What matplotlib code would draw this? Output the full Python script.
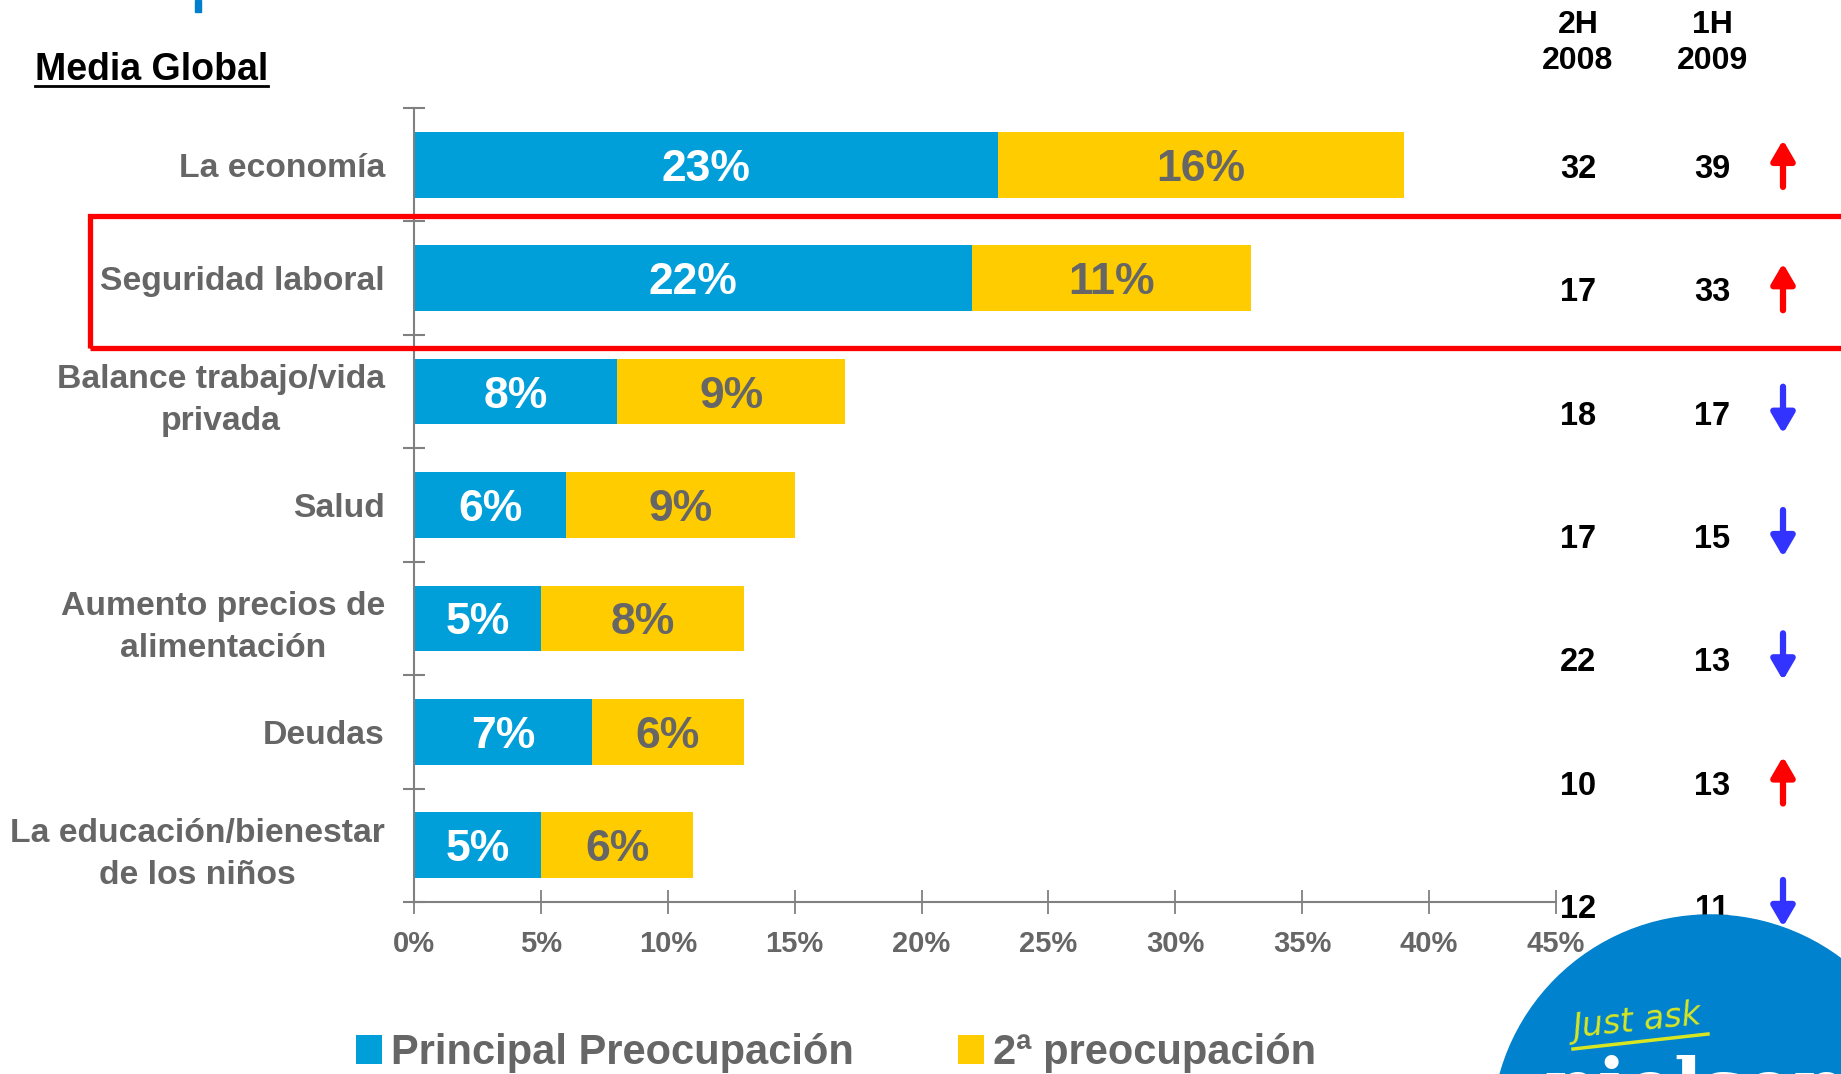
import matplotlib
matplotlib.use("Agg")
from matplotlib import pyplot as plt
from matplotlib.patches import Rectangle, Circle
from matplotlib.lines import Line2D
import numpy as np

# datos
categorias = ["La economía", "Seguridad laboral", "Balance trabajo/vida\nprivada", "Salud",
              "Aumento precios de\nalimentación", "Deudas", "La educación/bienestar\nde los niños"]
principal = [23, 22, 8, 6, 5, 7, 5]
segunda = [16, 11, 9, 9, 8, 6, 6]
h2_2008 = [32, 17, 18, 17, 22, 10, 12]
h1_2009 = [39, 33, 17, 15, 13, 13, 11]
cabeceras = ["2H\n2008", "1H\n2009"]
ticks_x = [0, 5, 10, 15, 20, 25, 30, 35, 40, 45]
leyenda = ["Principal Preocupación", "2ª preocupación"]

AZUL = "#009FDA"
AMARILLO = "#FFCC00"
GRIS = "#666666"
EJE = "#808080"

plt.rcParams['font.family'] = ["Liberation Sans", "DejaVu Sans"]
plt.rcParams['font.weight'] = 'bold'

W, H = 1841, 1074
fig = plt.figure(figsize=(W / 100, H / 100), dpi=100)

# grafico principal
ax = fig.add_axes([414 / W, 1 - 902 / H, 1142 / W, 794 / H])
y = np.arange(len(categorias))
b1 = ax.barh(y, principal, height=0.58, color=AZUL)
b2 = ax.barh(y, segunda, left=principal, height=0.58, color=AMARILLO)
for i in range(len(y)):
    ax.text(principal[i] / 2, y[i], f"{principal[i]}%", ha='center', va='center_baseline',
            color='white', fontsize=32, weight='bold')
    ax.text(principal[i] + segunda[i] / 2, y[i], f"{segunda[i]}%", ha='center', va='center_baseline',
            color=GRIS, fontsize=32, weight='bold')

ax.set_xlim(0, 45)
ax.set_ylim(len(y) - 0.5, -0.5)
ax.set_xticks(ticks_x, [f"{t}%" for t in ticks_x])
ax.set_yticks(y, categorias)
ax.set_yticks(np.arange(-0.5, len(y), 1), minor=True)
for s in ['top', 'right']:
    ax.spines[s].set_visible(False)
for s in ['left', 'bottom']:
    ax.spines[s].set_color(EJE)
    ax.spines[s].set_linewidth(1.5)
ax.tick_params(axis='y', which='major', length=0, pad=21, labelsize=24.3, labelcolor=GRIS)
ax.tick_params(axis='y', which='minor', length=16, width=1.5, color=EJE, direction='inout')
ax.tick_params(axis='x', length=17, width=1.3, color=EJE, direction='inout', pad=12,
               labelsize=21, labelcolor=GRIS)
for lbl in ax.get_yticklabels():
    lbl.set_multialignment('center')
    lbl.set_linespacing(1.45)

# tabla derecha
axt = fig.add_axes([1480 / W, 1 - 967.5 / H, 361 / W, 986.5 / H])
axt.set_xlim(1480, 1841)
axt.set_ylim(6.5, -1.5)
axt.axis('off')
col_x = [1578, 1712]
for c, cab in enumerate(cabeceras):
    axt.text(col_x[c], -1, cab, ha='center', va='center', fontsize=23, weight='bold',
             color='black', linespacing=1.25)
for i in range(len(y)):
    axt.text(col_x[0], i, str(h2_2008[i]), ha='center', va='center_baseline', fontsize=23.5,
             weight='bold', color='black')
    axt.text(col_x[1], i, str(h1_2009[i]), ha='center', va='center_baseline', fontsize=23.5,
             weight='bold', color='black')
    sube = h1_2009[i] > h2_2008[i]
    col = '#FF0000' if sube else '#3333FF'
    ini, fin = (i + 0.17, i - 0.21) if sube else (i - 0.21, i + 0.17)
    axt.annotate('', xy=(1783, fin), xytext=(1783, ini),
                 arrowprops=dict(arrowstyle='-|>,head_width=0.7,head_length=1.2', lw=4.5,
                                 color=col, shrinkA=0, shrinkB=0))

# leyenda
fig.legend([b1, b2], leyenda, loc='center left', bbox_to_anchor=(356 / W, 1 - 1053 / H),
           ncol=2, frameon=False, prop=dict(size=30, weight='bold'),
           labelcolor=GRIS, handlelength=0.62, handleheight=0.68, handletextpad=0.22,
           columnspacing=2.5, borderpad=0, borderaxespad=0)

# titulo subrayado
t = fig.text(35 / W, 1 - 80 / H, "Media Global", fontsize=27, weight='bold', color='black',
             va='baseline')
fig.canvas.draw()
bb = t.get_window_extent()
fig.add_artist(Line2D([bb.x0 / W, bb.x1 / W], [1 - 86 / H, 1 - 86 / H], color='black', lw=2))

# recuadro rojo
fig.add_artist(Rectangle((90 / W, 1 - 348 / H), (W - 70) / W, 132 / H, transform=fig.transFigure,
                         fill=False, ec='#FF0000', lw=3.8, zorder=3))

# decoracion
axd = fig.add_axes([0, 0, 1, 1], zorder=5)
axd.set_xlim(0, W)
axd.set_ylim(H, 0)
axd.axis('off')
axd.add_patch(Rectangle((195, 0), 6, 12, color='#0080CC'))
axd.add_patch(Circle((1710, 1133), 218, color='#0082CE'))
axd.text(1637, 1022, "Just ask", ha='center', va='center', rotation=6, fontsize=24,
         style='italic', weight='normal', color='#D8E622', family='DejaVu Sans')
axd.plot([1573, 1708], [1049, 1034], color='#D8E622', lw=2.5)
axd.text(1696, 1112, "nielsen", ha='center', va='baseline', fontsize=54, weight='bold',
         color='white', family='DejaVu Serif')

fig.savefig("out.png", dpi=100)
